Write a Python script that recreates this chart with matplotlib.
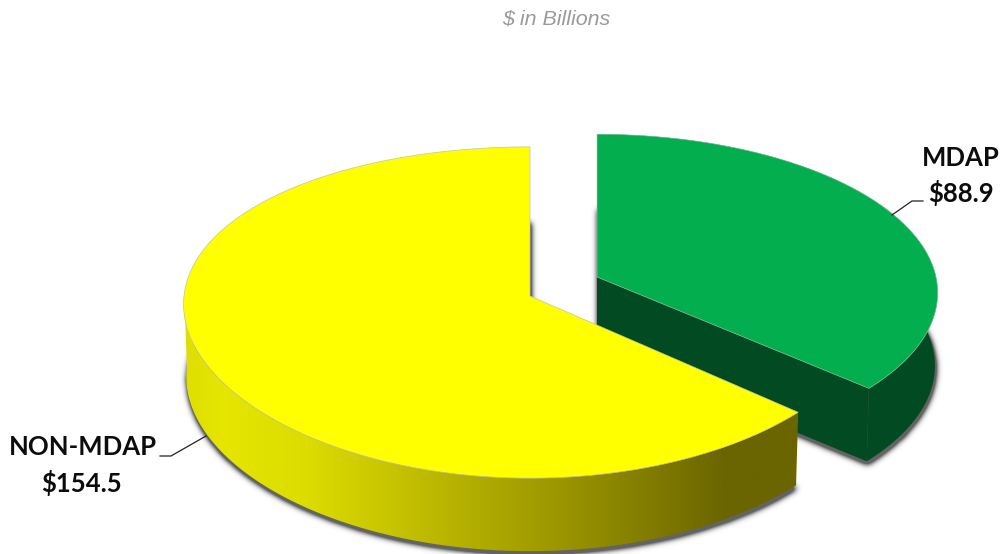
import numpy as np
import matplotlib
matplotlib.use("Agg")
import matplotlib.pyplot as plt
from matplotlib.colors import LinearSegmentedColormap
from matplotlib.patches import Polygon
from matplotlib.path import Path

categories = ["MDAP", "NON-MDAP"]
values = [88.9, 154.5]
subtitle = "$ in Billions"

W, H = 1000, 554
DEPTH = 73
PERSP = 0.0997
total = sum(values)
sweep_mdap = 360 * values[0] / total
sweep_non = 360 * values[1] / total


# flat circle -> screen, nearer points get pushed outward
def project(t, cx, cy, rx, ry, xp):
    t = np.radians(t)
    w = 1 / (1 + PERSP * np.sin(t))
    return cx + rx * np.cos(t) * w ** xp, cy - ry * np.sin(t) * w


def wedge_top(start, end, cx, cy, rx, ry, xp):
    t = np.linspace(start, end, 300)
    x, y = project(t, cx, cy, rx, ry, xp)
    return np.column_stack([np.r_[cx, x], np.r_[cy, y]])


def lowered(pts, cx):
    out = pts.copy()
    out[:, 0] = cx + (out[:, 0] - cx) * 0.992
    out[:, 1] += DEPTH
    return out


def blurred(pts_list, sigma, dx, dy):
    yy, xx = np.mgrid[0:H, 0:W]
    grid = np.column_stack([xx.ravel() + 0.5 - dx, yy.ravel() + 0.5 - dy])
    mask = np.zeros((H, W))
    for pts in pts_list:
        mask = np.maximum(mask, Path(pts).contains_points(grid).reshape(H, W).astype(float))
    k = np.exp(-0.5 * (np.arange(-12, 13) / sigma) ** 2)
    k /= k.sum()
    mask = np.apply_along_axis(lambda m: np.convolve(m, k, mode="same"), 0, mask)
    mask = np.apply_along_axis(lambda m: np.convolve(m, k, mode="same"), 1, mask)
    return mask


def gradient_fill(ax, pts, cmap, zorder):
    patch = Polygon(pts, closed=True, fc="none", ec="none", zorder=zorder)
    ax.add_patch(patch)
    x0, x1 = pts[:, 0].min(), pts[:, 0].max()
    im = ax.imshow(np.linspace(0, 1, 512)[None, :], cmap=cmap, aspect="auto",
                   extent=(x0, x1, H, 0), zorder=zorder)
    im.set_clip_path(patch)


fig = plt.figure(figsize=(W / 100, H / 100), dpi=100)
ax = fig.add_axes([0, 0, 1, 1])

# MDAP is pulled right and up, slices go from 12 o'clock
green_c = (597, 277, 339, 157, 1.0)
yellow_c = (530, 296, 346, 164, 0.5)
green_top = wedge_top(90, 90 - sweep_mdap, *green_c)
yellow_top = wedge_top(90, 90 + sweep_non, *yellow_c)
green_low = lowered(green_top, green_c[0])
yellow_low = lowered(yellow_top, yellow_c[0])

# drop shadow under both slices
shadow = blurred([green_low, yellow_low], 3.0, 1, 3)
rgba = np.zeros((H, W, 4))
rgba[..., :3] = 0.28
rgba[..., 3] = np.clip(shadow * 1.9, 0, 0.85)
ax.imshow(rgba, extent=(0, W, H, 0), aspect="auto", zorder=1, interpolation="nearest")

# green body
green_arc = green_top[1:]
green_side = np.vstack([green_top[0], green_arc, green_low[1:][::-1], green_low[0]])
ax.add_patch(Polygon(green_side, closed=True, fc="#014a22", ec="none", zorder=2))
ax.add_patch(Polygon(np.vstack([green_low[0], green_low[-1], green_top[-1], green_top[0]]),
                     closed=True, fc="#014a22", ec="none", zorder=2))
ax.add_patch(Polygon(green_top, closed=True, fc="#03ae4f", ec="#9fcfb4", lw=0.4, zorder=3))

# yellow rim, only the part facing the viewer
front = yellow_top[1:][np.sin(np.radians(np.linspace(90, 90 + sweep_non, 300))) < 0.02]
front_low = np.column_stack([yellow_c[0] + (front[:, 0] - yellow_c[0]) * 0.992, front[:, 1] + DEPTH])
rim = np.vstack([front, front_low[::-1]])
rim_cmap = LinearSegmentedColormap.from_list("rim", [
    (0.0, "#dede00"), (0.06, "#e6e600"), (0.2, "#dcdc00"), (0.4, "#bdb900"),
    (0.6, "#9d9800"), (0.8, "#7a7400"), (0.88, "#6b6500"), (1.0, "#6b6500")])
gradient_fill(ax, rim, rim_cmap, 4)
ax.add_patch(Polygon(yellow_top, closed=True, fc="#ffff00", ec="#c4c4a0", lw=0.5, zorder=5))

ax.text(556, 19, subtitle, ha="center", va="center", fontsize=15.4, style="italic",
        family="Liberation Sans", color="#9a9a9a")

# labels and leader lines
label_kw = dict(ha="center", va="center", fontsize=18.5, fontweight="bold",
                family="Lato", color="#0c0c0c")
ax.text(961, 158, categories[0], **label_kw)
ax.text(961, 193, f"${values[0]}", **label_kw)
ax.text(83, 447, categories[1], **label_kw)
ax.text(82, 483, f"${values[1]}", **label_kw)
ax.plot([923, 912, 892], [201, 201, 215], color="#222222", lw=0.9, zorder=6)
ax.plot([160, 171, 206], [456, 456, 436], color="#222222", lw=0.9, zorder=6)

ax.set_xlim(0, W)
ax.set_ylim(H, 0)
ax.axis("off")
fig.savefig("out.png", dpi=100, facecolor="white")
